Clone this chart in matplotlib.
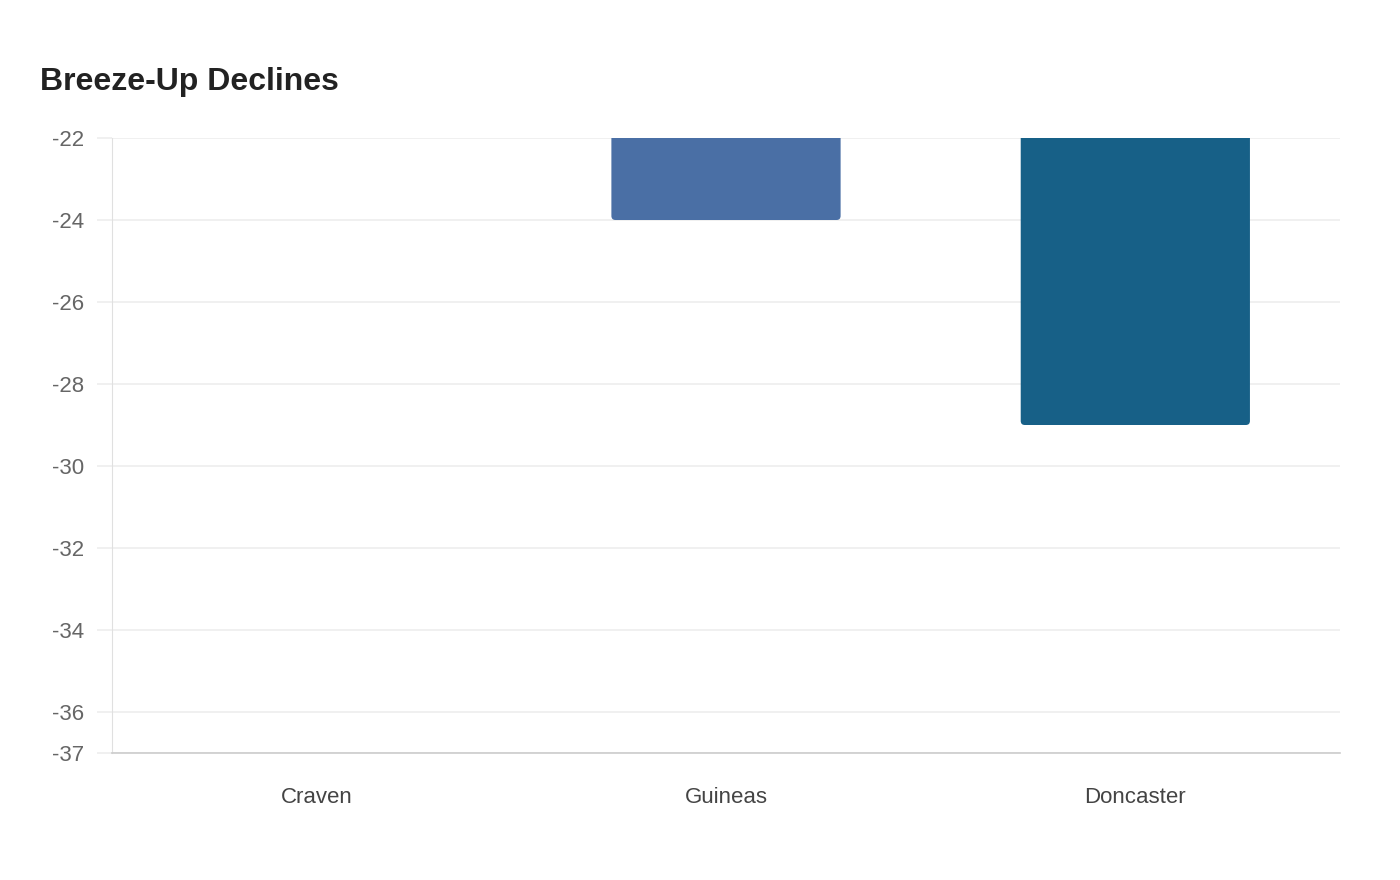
import matplotlib
matplotlib.use("Agg")
from matplotlib import pyplot as plt
from matplotlib.patches import FancyBboxPatch

plt.rcParams['font.family'] = ['Liberation Sans', 'DejaVu Sans']

# data
races = ["Craven", "Guineas", "Doncaster"]
declines = [-20, -24, -29]     # Craven sits above the visible range
bar_colors = ["#5b8db8", "#4a6fa5", "#176087"]
y_ticks = [-22, -24, -26, -28, -30, -32, -34, -36, -37]

fig = plt.figure(figsize=(14, 8.8), dpi=100)
ax = fig.add_axes([112/1400, 127/880, 1228/1400, 615/880])

bars = ax.bar(races, declines, width=0.56, color=bar_colors)
ax.set_ylim(-37, -22)
ax.set_xlim(-0.5, 2.5)

# rounded corners (top end is clipped away by the axis limit)
for b in bars:
    x, y = b.get_x(), b.get_y()
    w, h = b.get_width(), b.get_height()
    y0, hh = min(y, y + h), abs(h)
    patch = FancyBboxPatch((x, y0), w, hh,
                           boxstyle="round,pad=0,rounding_size=0.01",
                           mutation_aspect=10,
                           facecolor=b.get_facecolor(), edgecolor="none")
    patch.set_clip_path(ax.patch)
    ax.add_patch(patch)
    b.set_visible(False)

ax.set_yticks(y_ticks)
ax.set_yticklabels([str(v) for v in y_ticks])
ax.yaxis.grid(True, color="#eeeeee", linewidth=1.2)
ax.set_axisbelow(True)
ax.tick_params(axis="y", length=11, color="#eeeeee", width=1.2, pad=9,
               labelsize=16, labelcolor="#666666")
ax.tick_params(axis="x", length=0, pad=24.5, labelsize=16, labelcolor="#444444")

for s in ["top", "right"]:
    ax.spines[s].set_visible(False)
ax.spines["left"].set_color("#e0e0e0")
ax.spines["left"].set_linewidth(0.8)
ax.spines["bottom"].set_color("#cccccc")
ax.spines["bottom"].set_linewidth(1.2)

fig.text(40/1400, 1 - 90/880, "Breeze-Up Declines", fontsize=23,
         fontweight="bold", color="#222222", va="baseline", ha="left")

plt.savefig("out.png", dpi=100)
